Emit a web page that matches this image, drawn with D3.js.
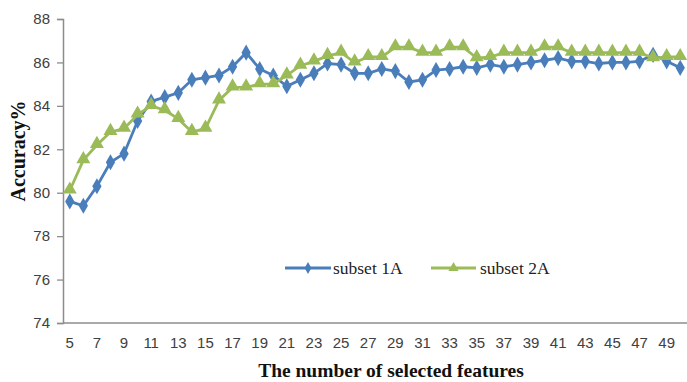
<!DOCTYPE html>
<html><head><meta charset="utf-8">
<script src="https://cdn.jsdelivr.net/npm/d3@7"></script>
<style>body{margin:0;background:#fff}svg{display:block}</style>
</head><body>
<svg id="chart" width="687" height="382"></svg>
<script>
const features = d3.range(5, 51);
const subset1A = [79.6,79.4,80.3,81.4,81.8,83.3,84.2,84.4,84.6,85.2,85.3,85.4,85.8,86.45,85.7,85.4,84.9,85.2,85.5,85.95,85.9,85.5,85.5,85.7,85.6,85.1,85.2,85.65,85.7,85.8,85.75,85.9,85.8,85.9,86.0,86.1,86.2,86.05,86.05,85.95,86.0,86.0,86.05,86.35,86.05,85.75];
const subset2A = [80.1,81.5,82.2,82.8,82.95,83.6,84.0,83.8,83.4,82.8,82.95,84.25,84.85,84.85,85.0,85.0,85.4,85.85,86.05,86.3,86.45,86.0,86.25,86.25,86.7,86.7,86.45,86.45,86.7,86.7,86.2,86.25,86.45,86.45,86.45,86.7,86.7,86.45,86.45,86.45,86.45,86.45,86.45,86.2,86.25,86.25];
const yTicks = [74,76,78,80,82,84,86,88];
const xTickLabels = d3.range(5, 50, 2);
const seriesNames = ["subset 1A", "subset 2A"];

(function () {
const svg = d3.select("#chart");
const mLeft = 63, mRight = 687, mTop = 19, mBottom = 323;
const x = d3.scaleBand().domain(features).range([mLeft, mRight]);
const y = d3.scaleLinear().domain([74, 88]).range([mBottom, mTop]);
const cx = d => x(d) + x.bandwidth() / 2;

const axisColor = "#8c8c8c";
const tickFont = "'Liberation Sans', Arial, sans-serif";

const ya = svg.append("g").attr("transform", `translate(${mLeft},0)`)
  .call(d3.axisLeft(y).tickValues(yTicks).tickSize(6).tickPadding(7));
ya.select(".domain").attr("stroke", axisColor).attr("stroke-width", 1.5);
ya.selectAll(".tick line").attr("stroke", axisColor).attr("stroke-width", 1.3);
ya.selectAll("text").attr("font-family", tickFont).attr("font-size", 15).attr("fill", "#404040");

const xa = svg.append("g").attr("transform", `translate(0,${mBottom})`)
  .call(d3.axisBottom(x).tickValues(xTickLabels).tickSize(0).tickPadding(14));
xa.select(".domain").attr("stroke", axisColor).attr("stroke-width", 1.5).attr("d", `M${mLeft},0H${mRight}`);
xa.selectAll("text").attr("font-family", tickFont).attr("font-size", 15).attr("fill", "#404040");

const colors = ["#4a7ebb", "#9bbb59"];
const data = [subset1A, subset2A];

const line = d3.line().x((d, i) => cx(features[i])).y(d => y(d));

const diamond = d3.symbol().type(d3.symbolDiamond).size(75);
const triangle = d3.symbol().type(d3.symbolTriangle).size(85);
const symbols = [diamond, triangle];

data.forEach((vals, si) => {
  svg.append("path").datum(vals).attr("d", line)
    .attr("fill", "none").attr("stroke", colors[si]).attr("stroke-width", 2.8);
  svg.append("g").selectAll("path").data(vals).join("path")
    .attr("transform", (d, i) => `translate(${cx(features[i])},${y(d) + (si === 1 ? -1 : 0)})`)
    .attr("d", symbols[si]).attr("fill", colors[si]);
});

const legend = [
  {x1: 285, x2: 331, tx: 333},
  {x1: 431, x2: 476, tx: 480}
];
const ly = 268;
legend.forEach((l, i) => {
  svg.append("line").attr("x1", l.x1).attr("x2", l.x2).attr("y1", ly).attr("y2", ly)
    .attr("stroke", colors[i]).attr("stroke-width", 2.8);
  svg.append("path").attr("transform", `translate(${(l.x1 + l.x2) / 2},${ly})`)
    .attr("d", d3.symbol().type(i === 0 ? d3.symbolDiamond : d3.symbolTriangle).size(i === 0 ? 40 : 45)())
    .attr("fill", colors[i]);
  svg.append("text").attr("x", l.tx).attr("y", ly + 6).text(seriesNames[i])
    .attr("font-family", "'Liberation Serif', 'Times New Roman', serif").attr("font-size", 17.5).attr("fill", "#222");
});

svg.append("text").attr("x", 391).attr("y", 377).attr("text-anchor", "middle")
  .attr("font-family", "'Liberation Serif', 'Times New Roman', serif").attr("font-weight", "bold")
  .attr("font-size", 19.5).attr("fill", "#111").text("The number of selected features");
svg.append("text").attr("transform", "translate(25,151) rotate(-90)").attr("text-anchor", "middle")
  .attr("font-family", "'Liberation Serif', 'Times New Roman', serif").attr("font-weight", "bold")
  .attr("font-size", 20).attr("fill", "#111").text("Accuracy%");
})();
</script>
</body></html>
